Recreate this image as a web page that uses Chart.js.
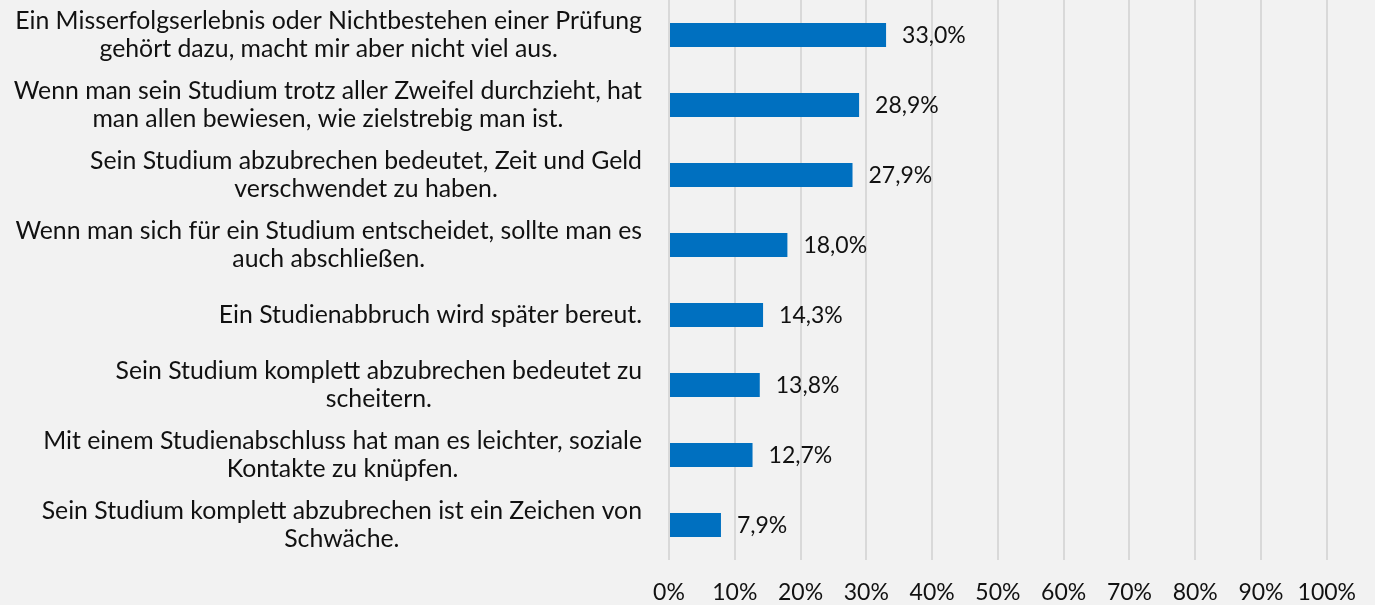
<!DOCTYPE html>
<html>
<head>
<meta charset="utf-8">
<script src="https://cdn.jsdelivr.net/npm/chart.js@4/dist/chart.umd.min.js"></script>
<style>
  html, body { margin: 0; padding: 0; background: #f2f2f2; }
  #wrap { width: 1375px; height: 605px; }
</style>
</head>
<body>
<div id="wrap"><canvas id="c" width="1375" height="605"></canvas></div>
<script>
const categories = [
  ["Ein Misserfolgserlebnis oder Nichtbestehen einer Prüfung", "gehört dazu, macht mir aber nicht viel aus."],
  ["Wenn man sein Studium trotz aller Zweifel durchzieht, hat", "man allen bewiesen, wie zielstrebig man ist."],
  ["Sein Studium abzubrechen bedeutet, Zeit und Geld", "verschwendet zu haben."],
  ["Wenn man sich für ein Studium entscheidet, sollte man es", "auch abschließen."],
  ["Ein Studienabbruch wird später bereut."],
  ["Sein Studium komplett abzubrechen bedeutet zu", "scheitern."],
  ["Mit einem Studienabschluss hat man es leichter, soziale", "Kontakte zu knüpfen."],
  ["Sein Studium komplett abzubrechen ist ein Zeichen von", "Schwäche."]
];
const values = [33.0, 28.9, 27.9, 18.0, 14.3, 13.8, 12.7, 7.9];
const xTicks = [0, 10, 20, 30, 40, 50, 60, 70, 80, 90, 100];

const FONT = "Lato, 'Open Sans', sans-serif";
const TEXT = "#111111";

const bgPlugin = {
  id: 'bg',
  beforeDraw(chart) {
    const ctx = chart.ctx;
    ctx.save();
    ctx.fillStyle = '#f2f2f2';
    ctx.fillRect(0, 0, chart.width, chart.height);
    ctx.restore();
  }
};

const catLabelPlugin = {
  id: 'catLabels',
  afterDraw(chart) {
    const ctx = chart.ctx;
    const y = chart.scales.y;
    const right = chart.chartArea.left - 27;
    const lh = 28;
    ctx.save();
    ctx.font = "24.8px " + FONT;
    ctx.fillStyle = TEXT;
    ctx.textAlign = 'center';
    ctx.textBaseline = 'middle';
    categories.forEach((lines, i) => {
      const cy = y.getPixelForValue(i);
      const w = Math.max(...lines.map(l => ctx.measureText(l).width));
      const cx = right - w / 2;
      const top = cy - (lines.length - 1) * lh / 2;
      lines.forEach((l, k) => ctx.fillText(l, cx, top + k * lh));
    });
    ctx.restore();
  }
};

const valueLabelPlugin = {
  id: 'valueLabels',
  afterDatasetsDraw(chart) {
    const ctx = chart.ctx;
    const meta = chart.getDatasetMeta(0);
    ctx.save();
    ctx.font = "23px " + FONT;
    ctx.fillStyle = TEXT;
    ctx.textAlign = 'left';
    ctx.textBaseline = 'middle';
    meta.data.forEach((bar, i) => {
      const txt = values[i].toFixed(1).replace('.', ',') + '%';
      ctx.fillText(txt, bar.x + 16, bar.y + 1);
    });
    ctx.restore();
  }
};

new Chart(document.getElementById('c'), {
  type: 'bar',
  data: {
    labels: categories.map(l => l.join(' ')),
    datasets: [{
      data: values,
      backgroundColor: '#0070c0',
      borderWidth: 0,
      categoryPercentage: 1,
      barPercentage: 0.343
    }]
  },
  options: {
    indexAxis: 'y',
    responsive: false,
    animation: false,
    devicePixelRatio: 1,
    layout: { padding: { top: 0, right: 47, bottom: 0, left: 0 } },
    plugins: {
      legend: { display: false },
      tooltip: { enabled: false }
    },
    scales: {
      x: {
        min: 0,
        max: 100,
        afterBuildTicks(scale) { scale.ticks = xTicks.map(v => ({ value: v })); },
        afterFit(scale) { scale.height = 45; },
        grid: { color: '#d9d9d9', lineWidth: 2, drawTicks: false },
        border: { display: false },
        ticks: {
          padding: 19,
          color: TEXT,
          font: { family: FONT, size: 23 },
          callback: v => v + '%'
        }
      },
      y: {
        afterFit(scale) { scale.width = 669; },
        grid: { display: false },
        border: { display: false },
        ticks: { display: false }
      }
    }
  },
  plugins: [bgPlugin, catLabelPlugin, valueLabelPlugin]
});
</script>
</body>
</html>
